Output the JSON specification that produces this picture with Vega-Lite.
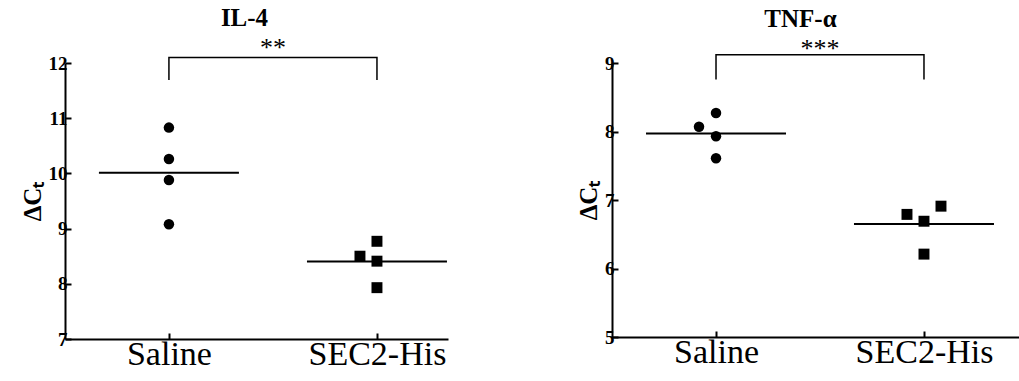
{
  "$schema": "https://vega.github.io/schema/vega-lite/v6.json",
  "background": "white",
  "padding": {"left": 20, "top": 6, "right": 0, "bottom": 0},
  "spacing": 128,
  "config": {
    "font": "Liberation Serif",
    "view": {"stroke": null},
    "title": {"font": "Liberation Serif", "fontSize": 25, "fontWeight": "bold", "color": "black", "anchor": "middle", "offset": 0}
  },
  "datasets": {
    "il4": [
      {"group": "Saline", "value": 10.83, "jit": 0},
      {"group": "Saline", "value": 10.26, "jit": 0},
      {"group": "Saline", "value": 9.88, "jit": 0},
      {"group": "Saline", "value": 9.08, "jit": 0},
      {"group": "SEC2-His", "value": 8.77, "jit": 0},
      {"group": "SEC2-His", "value": 8.50, "jit": -1},
      {"group": "SEC2-His", "value": 8.41, "jit": 0},
      {"group": "SEC2-His", "value": 7.93, "jit": 0}
    ],
    "tnf": [
      {"group": "Saline", "value": 8.27, "jit": 0},
      {"group": "Saline", "value": 8.07, "jit": -1},
      {"group": "Saline", "value": 7.93, "jit": 0},
      {"group": "Saline", "value": 7.61, "jit": 0},
      {"group": "SEC2-His", "value": 6.79, "jit": -1},
      {"group": "SEC2-His", "value": 6.91, "jit": 1},
      {"group": "SEC2-His", "value": 6.69, "jit": 0},
      {"group": "SEC2-His", "value": 6.21, "jit": 0}
    ],
    "il4br": [
      {"group": "Saline", "value": 11.69, "o": 1},
      {"group": "Saline", "value": 12.1, "o": 2},
      {"group": "SEC2-His", "value": 12.1, "o": 3},
      {"group": "SEC2-His", "value": 11.69, "o": 4}
    ],
    "tnfbr": [
      {"group": "Saline", "value": 8.76, "o": 1},
      {"group": "Saline", "value": 9.12, "o": 2},
      {"group": "SEC2-His", "value": 9.12, "o": 3},
      {"group": "SEC2-His", "value": 8.76, "o": 4}
    ],
    "il4sig": [{"group": "mid", "value": 12.12, "label": "**"}],
    "tnfsig": [{"group": "mid", "value": 9.09, "label": "***"}]
  },
  "hconcat": [
    {
      "width": 383, "height": 276,
      "title": {"text": "IL-4", "dx": -12},
      "encoding": {
        "x": {"field": "group", "type": "nominal",
          "scale": {"type": "point", "domain": ["Saline", "mid", "SEC2-His"], "padding": 0.841, "align": 0.594},
          "axis": {"values": ["Saline", "SEC2-His"], "title": null, "labelAngle": 0, "grid": false,
            "domainColor": "black", "domainWidth": 2, "tickColor": "black", "tickWidth": 2, "tickSize": -6,
            "labelColor": "black", "labelFont": "Liberation Serif", "labelFontSize": 34, "labelFontWeight": "normal", "labelPadding": 4}},
        "y": {"field": "value", "type": "quantitative",
          "scale": {"domain": [7, 12], "nice": false, "zero": false},
          "axis": {"values": [7, 8, 9, 10, 11, 12], "title": "ΔCₜ", "grid": false,
            "domainColor": "black", "domainWidth": 2, "tickColor": "black", "tickWidth": 2, "tickSize": -6,
            "labelColor": "black", "labelFont": "Liberation Serif", "labelFontSize": 19, "labelFontWeight": "bold", "labelPadding": 4,
            "titleColor": "black", "titleFont": "Liberation Serif", "titleFontSize": 25, "titleFontWeight": "bold", "titlePadding": 3}}
      },
      "layer": [
        {"data": {"name": "il4br"}, "mark": {"type": "line", "color": "black", "strokeWidth": 1.5},
          "encoding": {"order": {"field": "o", "type": "quantitative"}}},
        {"data": {"name": "il4sig"}, "mark": {"type": "text", "fontSize": 26, "color": "black", "baseline": "alphabetic", "font": "Liberation Serif"},
          "encoding": {"text": {"field": "label"}}},
        {"data": {"name": "il4"}, "mark": {"type": "tick", "orient": "horizontal", "size": 140, "thickness": 2, "color": "black"},
          "encoding": {"y": {"field": "value", "aggregate": "mean", "type": "quantitative"}}},
        {"data": {"name": "il4"}, "mark": {"type": "point", "filled": true, "color": "black", "opacity": 1},
          "encoding": {
            "xOffset": {"field": "jit", "type": "quantitative", "scale": {"domain": [-1, 1], "range": [-17, 17]}},
            "shape": {"field": "group", "type": "nominal", "scale": {"domain": ["Saline", "SEC2-His"], "range": ["circle", "square"]}, "legend": null},
            "size": {"field": "group", "type": "nominal", "scale": {"domain": ["Saline", "SEC2-His"], "range": [110, 120]}, "legend": null}
          }}
      ]
    },
    {
      "width": 407, "height": 274,
      "title": {"text": "TNF-α", "dx": -15},
      "encoding": {
        "x": {"field": "group", "type": "nominal",
          "scale": {"type": "point", "domain": ["Saline", "mid", "SEC2-His"], "padding": 0.957, "align": 0.5226},
          "axis": {"values": ["Saline", "SEC2-His"], "title": null, "labelAngle": 0, "grid": false,
            "domainColor": "black", "domainWidth": 2, "tickColor": "black", "tickWidth": 2, "tickSize": -6,
            "labelColor": "black", "labelFont": "Liberation Serif", "labelFontSize": 34, "labelFontWeight": "normal", "labelPadding": 4}},
        "y": {"field": "value", "type": "quantitative",
          "scale": {"domain": [5, 9], "nice": false, "zero": false},
          "axis": {"values": [5, 6, 7, 8, 9], "title": "ΔCₜ", "grid": false,
            "domainColor": "black", "domainWidth": 2, "tickColor": "black", "tickWidth": 2, "tickSize": -6,
            "labelColor": "black", "labelFont": "Liberation Serif", "labelFontSize": 19, "labelFontWeight": "bold", "labelPadding": 4,
            "titleColor": "black", "titleFont": "Liberation Serif", "titleFontSize": 25, "titleFontWeight": "bold", "titlePadding": 3}}
      },
      "layer": [
        {"data": {"name": "tnfbr"}, "mark": {"type": "line", "color": "black", "strokeWidth": 1.5},
          "encoding": {"order": {"field": "o", "type": "quantitative"}}},
        {"data": {"name": "tnfsig"}, "mark": {"type": "text", "fontSize": 26, "color": "black", "baseline": "alphabetic", "font": "Liberation Serif"},
          "encoding": {"text": {"field": "label"}}},
        {"data": {"name": "tnf"}, "mark": {"type": "tick", "orient": "horizontal", "size": 140, "thickness": 2, "color": "black"},
          "encoding": {"y": {"field": "value", "aggregate": "mean", "type": "quantitative"}}},
        {"data": {"name": "tnf"}, "mark": {"type": "point", "filled": true, "color": "black", "opacity": 1},
          "encoding": {
            "xOffset": {"field": "jit", "type": "quantitative", "scale": {"domain": [-1, 1], "range": [-17, 17]}},
            "shape": {"field": "group", "type": "nominal", "scale": {"domain": ["Saline", "SEC2-His"], "range": ["circle", "square"]}, "legend": null},
            "size": {"field": "group", "type": "nominal", "scale": {"domain": ["Saline", "SEC2-His"], "range": [110, 120]}, "legend": null}
          }}
      ]
    }
  ]
}
